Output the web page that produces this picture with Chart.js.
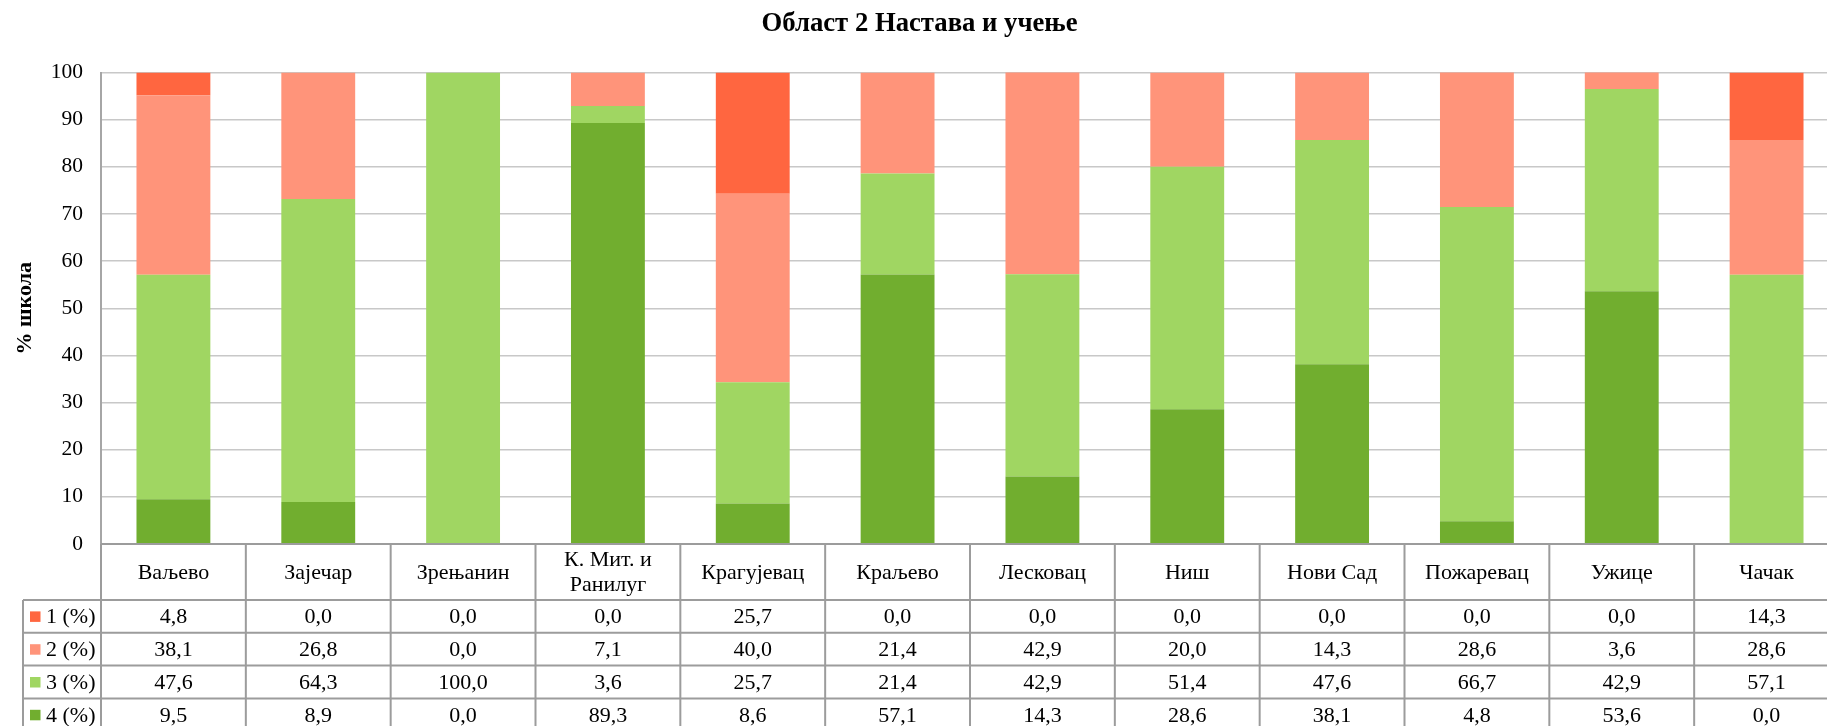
<!DOCTYPE html>
<html>
<head>
<meta charset="utf-8">
<script src="https://cdn.jsdelivr.net/npm/chart.js@4.4.1/dist/chart.umd.min.js"></script>
<style>
html,body{margin:0;padding:0;background:#fff;overflow:hidden;}
#wrap{position:relative;width:1860px;height:726px;}
</style>
</head>
<body>
<div id="wrap"><canvas id="c"></canvas></div>
<script>
const titleText = 'Област 2 Настава и учење';
const yAxisTitle = '% школа';
const categories = ['Ваљево','Зајечар','Зрењанин',['К. Мит. и','Ранилуг'],'Крагујевац','Краљево','Лесковац','Ниш','Нови Сад','Пожаревац','Ужице','Чачак'];
const seriesNames = ['1 (%)','2 (%)','3 (%)','4 (%)'];
const s1 = [4.8,0.0,0.0,0.0,25.7,0.0,0.0,0.0,0.0,0.0,0.0,14.3];
const s2 = [38.1,26.8,0.0,7.1,40.0,21.43,42.9,20.0,14.3,28.6,3.6,28.6];
const s3 = [47.6,64.3,100.0,3.6,25.7,21.43,42.9,51.4,47.6,66.7,42.9,57.1];
const s4 = [9.5,8.9,0.0,89.3,8.6,57.14,14.3,28.6,38.1,4.8,53.6,0.0];
const yTicks = [0,10,20,30,40,50,60,70,80,90,100];
const colors = ['#FF6640','#FF947A','#A0D662','#71AE2F'];

const FONT = 'Liberation Serif, Times New Roman, serif';
const seriesData = [s1,s2,s3,s4];

const tablePlugin = {
  id: 'dataTable',
  afterDraw(chart) {
    const ctx = chart.ctx;
    const area = chart.chartArea;
    const n = categories.length;
    const colW = (area.right - area.left) / n;
    const headTop = area.bottom;
    const headBot = 600;
    const rowH = 32.8;
    const legLeft = 23;
    const bottomEnd = headBot + rowH * seriesNames.length;
    ctx.save();
    ctx.strokeStyle = '#9c9c9c';
    ctx.lineWidth = 2;
    ctx.beginPath();
    ctx.moveTo(area.left, headTop); ctx.lineTo(area.right, headTop);
    for (let i = 0; i <= n; i++) {
      const x = area.left + i * colW;
      ctx.moveTo(x, headTop); ctx.lineTo(x, bottomEnd + 5);
    }
    ctx.moveTo(legLeft, headBot); ctx.lineTo(legLeft, bottomEnd + 5);
    for (let r = 0; r <= seriesNames.length; r++) {
      const y = headBot + r * rowH;
      ctx.moveTo(legLeft, y); ctx.lineTo(area.right, y);
    }
    ctx.stroke();

    ctx.fillStyle = '#000';
    ctx.font = '22px ' + FONT;
    ctx.textAlign = 'center';
    ctx.textBaseline = 'middle';
    for (let i = 0; i < n; i++) {
      const cx = area.left + (i + 0.5) * colW;
      const lab = categories[i];
      const cy = (headTop + headBot) / 2 + 1;
      if (Array.isArray(lab)) {
        const lh = 25;
        lab.forEach((t, k) => ctx.fillText(t, cx, cy + (k - (lab.length - 1) / 2) * lh));
      } else {
        ctx.fillText(lab, cx, cy);
      }
    }
    for (let r = 0; r < seriesNames.length; r++) {
      const cy = headBot + (r + 0.5) * rowH + 1;
      for (let i = 0; i < n; i++) {
        const cx = area.left + (i + 0.5) * colW;
        ctx.fillText(seriesData[r][i].toFixed(1).replace('.', ','), cx, cy);
      }
      ctx.fillStyle = colors[r];
      ctx.fillRect(30, cy - 6, 10.5, 10.5);
      ctx.fillStyle = '#000';
      ctx.textAlign = 'left';
      ctx.fillText(seriesNames[r], 46, cy);
      ctx.textAlign = 'center';
    }
    ctx.restore();
  }
};

const datasets = [3,2,1,0].map(idx => ({
  label: seriesNames[idx],
  data: seriesData[idx],
  backgroundColor: colors[idx],
  borderWidth: 0,
  barPercentage: 0.51,
  categoryPercentage: 1.0,
  stack: 's'
}));

new Chart(document.getElementById('c'), {
  type: 'bar',
  data: { labels: categories, datasets },
  plugins: [tablePlugin],
  options: {
    responsive: true,
    maintainAspectRatio: false,
    animation: false,
    layout: { padding: { left: 0, right: 21, top: 0, bottom: 182 } },
    plugins: {
      legend: { display: false },
      tooltip: { enabled: false },
      title: {
        display: true,
        text: titleText,
        color: '#000',
        font: { family: FONT, size: 26.7, weight: 'bold' },
        padding: { top: 8, bottom: 32.5 }
      }
    },
    scales: {
      x: {
        display: false,
        stacked: true
      },
      y: {
        stacked: true,
        min: 0,
        max: 100,
        afterFit(scale) { scale.width = 101; },
        afterBuildTicks(scale) { scale.ticks = yTicks.map(v => ({ value: v })); },
        ticks: {
          color: '#000',
          font: { family: FONT, size: 21.5 },
          padding: 18
        },
        grid: { color: '#c8c8c8', lineWidth: 1.5, drawTicks: false },
        border: { display: true, color: '#a6a6a6', width: 2 },
        title: {
          display: true,
          text: yAxisTitle,
          color: '#000',
          font: { family: FONT, size: 22, weight: 'bold' },
          padding: { top: 12, bottom: 0 }
        }
      }
    }
  }
});
</script>
</body>
</html>
